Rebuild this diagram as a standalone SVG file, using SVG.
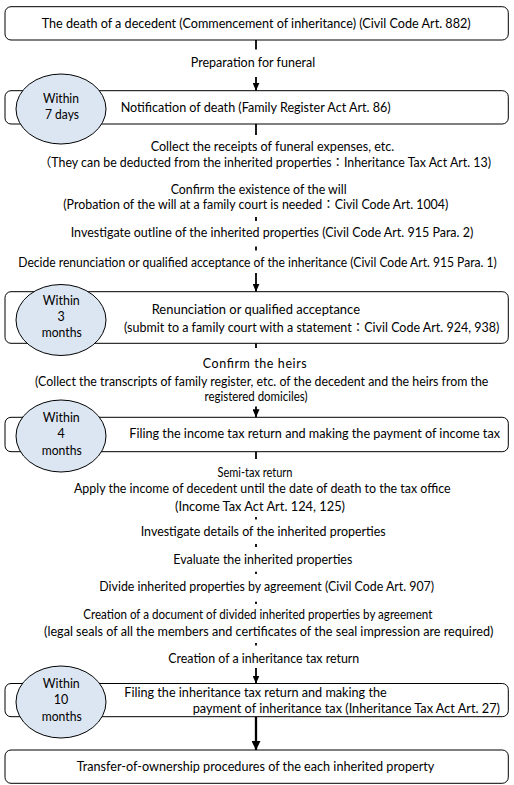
<svg xmlns="http://www.w3.org/2000/svg" width="514" height="785" viewBox="0 0 514 785">
<style>
.t{font-family:Lato,"Noto Sans CJK JP",sans-serif;font-size:12.5px;fill:#000}
.box{fill:#fff;stroke:#000;stroke-width:1}
.badge{fill:#dce6f2;stroke:#000;stroke-width:1}
.ln{stroke:#000;stroke-width:1.8;fill:none}
.lnb{stroke:#000;stroke-width:2.3;fill:none}
.bg{fill:#fff}
</style>
<defs>
<marker id="ah" viewBox="0 0 8 7" refX="8" refY="3.5" markerWidth="8" markerHeight="7" markerUnits="userSpaceOnUse" orient="auto">
<path d="M0,0 L8,3.5 L0,7 z" fill="#000"/>
</marker>
<marker id="ahb" viewBox="0 0 9 9" refX="9" refY="4.5" markerWidth="9" markerHeight="9" markerUnits="userSpaceOnUse" orient="auto">
<path d="M0,0 L9,4.5 L0,9 z" fill="#000"/>
</marker>
</defs>
<rect width="514" height="785" fill="#fff"/>

<g id="connectors">
<line class="ln" x1="256" y1="40" x2="256" y2="90.7" marker-end="url(#ah)"/>
<line class="ln" x1="256" y1="124" x2="256" y2="291.7" marker-end="url(#ah)"/>
<line class="ln" x1="256" y1="343.3" x2="256" y2="417.3" marker-end="url(#ah)"/>
<line class="ln" x1="256" y1="451.7" x2="256" y2="683.5" marker-end="url(#ah)"/>
<line class="lnb" x1="256" y1="716.7" x2="256" y2="750" marker-end="url(#ahb)"/>
</g>

<g id="labels">
<rect class="bg" x="188" y="49.5" width="130" height="27.5"/>
<text class="t" x="253" y="67.3" text-anchor="middle" textLength="124.3" lengthAdjust="spacingAndGlyphs">Preparation for funeral</text>

<rect class="bg" x="36" y="135" width="458" height="41"/>
<text class="t" x="272.5" y="150.7" text-anchor="middle" textLength="243.6" lengthAdjust="spacingAndGlyphs">Collect the receipts of funeral expenses, etc.</text>
<text class="t" x="265" y="167.3" text-anchor="middle" textLength="452" lengthAdjust="spacingAndGlyphs">（They can be deducted from the inherited properties：Inheritance Tax Act Art. 13)</text>

<rect class="bg" x="61" y="176" width="390" height="41"/>
<text class="t" x="258.7" y="194" text-anchor="middle" textLength="176" lengthAdjust="spacingAndGlyphs">Confirm the existence of the will</text>
<text class="t" x="255.8" y="209" text-anchor="middle" textLength="385" lengthAdjust="spacingAndGlyphs">(Probation of the will at a family court is needed：Civil Code Art. 1004)</text>

<rect class="bg" x="68" y="221" width="408" height="25.5"/>
<text class="t" x="272" y="237.3" text-anchor="middle" textLength="402.6" lengthAdjust="spacingAndGlyphs">Investigate outline of the inherited properties (Civil Code Art. 915 Para. 2)</text>

<rect class="bg" x="16" y="250.5" width="483" height="22.5"/>
<text class="t" x="257.5" y="267.3" text-anchor="middle" textLength="478.4" lengthAdjust="spacingAndGlyphs">Decide renunciation or qualified acceptance of the inheritance (Civil Code Art. 915 Para. 1)</text>

<rect class="bg" x="32" y="348" width="459" height="58.5"/>
<text class="t" x="254.7" y="368" text-anchor="middle" textLength="104" lengthAdjust="spacing">Confirm the heirs</text>
<text class="t" x="261.7" y="385.7" text-anchor="middle" textLength="453.3" lengthAdjust="spacingAndGlyphs">(Collect the transcripts of family register, etc. of the decedent and the heirs from the</text>
<text class="t" x="256" y="400.7" text-anchor="middle" textLength="103" lengthAdjust="spacingAndGlyphs">registered domiciles)</text>

<rect class="bg" x="71" y="459" width="382" height="58"/>
<text class="t" x="255" y="476.7" text-anchor="middle" textLength="75" lengthAdjust="spacingAndGlyphs">Semi-tax return</text>
<text class="t" x="262.3" y="493.3" text-anchor="middle" textLength="376.7" lengthAdjust="spacingAndGlyphs">Apply the income of decedent until the date of death to the tax office</text>
<text class="t" x="260" y="510.7" text-anchor="middle" textLength="170" lengthAdjust="spacingAndGlyphs">(Income Tax Act Art. 124, 125)</text>

<rect class="bg" x="138" y="519.5" width="250" height="24.5"/>
<text class="t" x="263.2" y="535.7" text-anchor="middle" textLength="245" lengthAdjust="spacingAndGlyphs">Investigate details of the inherited properties</text>

<rect class="bg" x="171" y="547" width="184" height="24.7"/>
<text class="t" x="262.8" y="564" text-anchor="middle" textLength="179" lengthAdjust="spacingAndGlyphs">Evaluate the inherited properties</text>

<rect class="bg" x="97" y="574" width="339" height="27.7"/>
<text class="t" x="266.7" y="590.7" text-anchor="middle" textLength="334.7" lengthAdjust="spacingAndGlyphs">Divide inherited properties by agreement (Civil Code Art. 907)</text>

<rect class="bg" x="42" y="604" width="453" height="39"/>
<text class="t" x="257.8" y="619" text-anchor="middle" textLength="349" lengthAdjust="spacingAndGlyphs">Creation of a document of divided inherited properties by agreement</text>
<text class="t" x="268.7" y="635.7" text-anchor="middle" textLength="449.3" lengthAdjust="spacingAndGlyphs">(legal seals of all the members and certificates of the seal impression are required)</text>

<rect class="bg" x="166" y="645.5" width="196" height="22.5"/>
<text class="t" x="263.8" y="663" text-anchor="middle" textLength="191" lengthAdjust="spacingAndGlyphs">Creation of a inheritance tax return</text>
</g>

<g id="node-death">
<rect class="box" x="5" y="6.7" width="503.3" height="33.3" rx="6"/>
<text class="t" x="256.2" y="27.7" text-anchor="middle" textLength="429" lengthAdjust="spacingAndGlyphs">The death of a decedent (Commencement of inheritance) (Civil Code Art. 882)</text>
</g>

<g id="node-notification">
<rect class="box" x="5" y="90.7" width="503.3" height="33.3" rx="6"/>
<text class="t" x="120.7" y="112.3" textLength="270" lengthAdjust="spacingAndGlyphs">Notification of death (Family Register Act Art. 86)</text>
<ellipse class="badge" cx="61" cy="109" rx="45" ry="35"/>
<text class="t" x="61" y="103.3" text-anchor="middle" textLength="36" lengthAdjust="spacingAndGlyphs">Within</text>
<text class="t" x="62" y="119" text-anchor="middle" textLength="34" lengthAdjust="spacingAndGlyphs">7 days</text>
</g>

<g id="node-renunciation">
<rect class="box" x="5" y="291.7" width="503.3" height="51.6" rx="6"/>
<text class="t" x="151.7" y="314" textLength="208.3" lengthAdjust="spacingAndGlyphs">Renunciation or qualified acceptance</text>
<text class="t" x="124" y="332.3" textLength="375.3" lengthAdjust="spacingAndGlyphs">(submit to a family court with a statement：Civil Code Art. 924, 938)</text>
<ellipse class="badge" cx="61" cy="320" rx="45" ry="35.5"/>
<text class="t" x="61.3" y="304.7" text-anchor="middle" textLength="37" lengthAdjust="spacingAndGlyphs">Within</text>
<text class="t" x="61" y="320.7" text-anchor="middle">3</text>
<text class="t" x="61.7" y="337.3" text-anchor="middle" textLength="40" lengthAdjust="spacingAndGlyphs">months</text>
</g>

<g id="node-income-tax">
<rect class="box" x="5" y="417.3" width="503.3" height="34.4" rx="6"/>
<text class="t" x="129.3" y="438.3" textLength="370.7" lengthAdjust="spacingAndGlyphs">Filing the income tax return and making the payment of income tax</text>
<ellipse class="badge" cx="61" cy="436" rx="45" ry="36"/>
<text class="t" x="61.3" y="422" text-anchor="middle" textLength="37" lengthAdjust="spacingAndGlyphs">Within</text>
<text class="t" x="61" y="438" text-anchor="middle">4</text>
<text class="t" x="61.7" y="454.7" text-anchor="middle" textLength="40" lengthAdjust="spacingAndGlyphs">months</text>
</g>

<g id="node-inheritance-tax">
<rect class="box" x="5" y="683.5" width="503.3" height="33.2" rx="6"/>
<text class="t" x="124.3" y="697.3" textLength="262.4" lengthAdjust="spacingAndGlyphs">Filing the inheritance tax return and making the</text>
<text class="t" x="192.7" y="713.3" textLength="307.3" lengthAdjust="spacingAndGlyphs">payment of inheritance tax (Inheritance Tax Act Art. 27)</text>
<ellipse class="badge" cx="61" cy="702" rx="45" ry="36"/>
<text class="t" x="61.3" y="688" text-anchor="middle" textLength="37" lengthAdjust="spacingAndGlyphs">Within</text>
<text class="t" x="61" y="704" text-anchor="middle">10</text>
<text class="t" x="61.7" y="721.3" text-anchor="middle" textLength="40" lengthAdjust="spacingAndGlyphs">months</text>
</g>

<g id="node-transfer">
<rect class="box" x="5" y="750" width="503.3" height="33.3" rx="6"/>
<text class="t" x="255.5" y="770.7" text-anchor="middle" textLength="357.6" lengthAdjust="spacingAndGlyphs">Transfer-of-ownership procedures of the each inherited property</text>
</g>
</svg>
